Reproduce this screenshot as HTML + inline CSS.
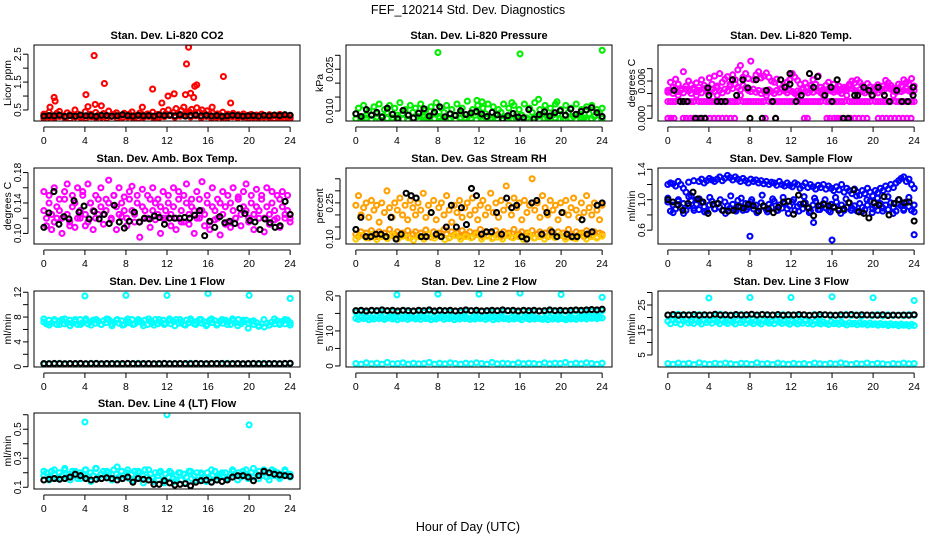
<!DOCTYPE html>
<html><head><meta charset="utf-8"><title>FEF_120214 Std. Dev. Diagnostics</title>
<style>
html,body{margin:0;padding:0;background:#fff;}
svg{display:block;font-family:"Liberation Sans",Arial,sans-serif;}
</style></head>
<body>
<svg id="chart" width="936" height="540" viewBox="0 0 936 540">
<rect x="0" y="0" width="936" height="540" fill="#fff"/>
<text x="468" y="14" text-anchor="middle" font-size="12.5">FEF_120214  Std. Dev. Diagnostics</text>
<text x="468" y="531" text-anchor="middle" font-size="12.5">Hour of Day (UTC)</text>
</svg>
<script>
// ---------- data ----------
const hourTicks = [0,4,8,12,16,20,24];

// Panel 1: Li-820 CO2 (Licor ppm)
const co2Main = [0.35,0.28,0.42,0.3,0.25,0.38,0.45,0.3,0.27,0.4,0.33,0.29,0.5,0.36,0.31,0.27,0.44,0.3,0.35,0.26,0.41,0.32,0.28,0.37,0.3,0.46,0.27,0.34,0.4,0.29,0.31,0.38,0.26,0.35,0.43,0.3,0.28,0.39,0.33,0.27,0.36,0.31,0.42,0.29,0.34,0.3,0.45,0.37,0.5,0.33,0.41,0.55,0.36,0.48,0.6,0.39,0.44,0.52,0.35,0.58,0.42,0.5,0.38,0.47,0.33,0.4,0.29,0.36,0.31,0.42,0.28,0.35,0.3,0.38,0.27,0.33,0.29,0.36,0.25,0.31,0.34,0.28,0.32,0.26,0.35,0.3,0.27,0.33,0.29,0.31,0.26,0.34,0.28,0.3,0.25,0.22];
const co2Low = [0.2,0.24,0.21,0.27,0.22,0.19,0.25,0.23,0.2,0.26,0.22,0.24,0.21,0.28,0.2,0.23,0.25,0.22,0.19,0.24,0.27,0.21,0.23,0.26,0.3,0.24,0.28,0.32,0.25,0.29,0.22,0.27,0.2,0.24,0.23,0.21,0.26,0.22,0.25,0.2,0.23,0.21,0.24,0.22,0.2,0.23,0.21,0.19];
const co2Black = [0.28,0.3,0.29,0.31,0.27,0.3,0.28,0.32,0.29,0.3,0.27,0.31,0.3,0.28,0.29,0.33,0.3,0.28,0.31,0.29,0.3,0.28,0.32,0.3,0.31,0.29,0.33,0.28,0.3,0.32,0.29,0.31,0.28,0.3,0.27,0.29,0.31,0.3,0.28,0.29,0.3,0.28,0.31,0.29,0.32,0.3,0.33,0.31];
const co2OutHr = [0.6,1.0,1.1,4.1,4.3,4.9,5.0,5.6,5.9,9.6,10.6,11.5,12.1,12.7,13.8,13.9,14.1,14.3,14.6,14.7,14.9,17.5,18.2,16.4];
const co2OutVal = [0.6,0.95,0.82,1.05,0.62,2.45,0.7,0.65,1.45,0.6,1.25,0.75,1.0,1.08,1.05,2.15,2.75,1.1,0.95,1.35,1.4,1.7,0.75,0.6];
const co2Ticks = [0.5,1.0,1.5,2.0,2.5];
const co2Labels = ["0.5","","1.5","","2.5"];

// Panel 2: Li-820 Pressure (kPa)
const presMain = [0.009,0.011,0.0075,0.012,0.0085,0.01,0.007,0.0115,0.009,0.0125,0.008,0.0105,0.0095,0.012,0.0075,0.011,0.0085,0.013,0.009,0.0105,0.007,0.012,0.0095,0.011,0.008,0.0125,0.0085,0.0105,0.0075,0.0115,0.009,0.013,0.008,0.011,0.0095,0.012,0.007,0.0105,0.0085,0.0125,0.009,0.011,0.0075,0.0135,0.0085,0.0105,0.0095,0.012,0.008,0.011,0.009,0.0125,0.0075,0.0115,0.0085,0.0105,0.0095,0.0125,0.008,0.011,0.007,0.012,0.009,0.0105,0.0085,0.0125,0.0075,0.011,0.0095,0.013,0.008,0.0105,0.009,0.012,0.0075,0.011,0.0085,0.0125,0.009,0.0105,0.007,0.012,0.0095,0.011,0.008,0.0125,0.0085,0.0105,0.0075,0.0115,0.009,0.012,0.008,0.0105,0.0095,0.011];
const presLow = [0.0072,0.0068,0.0075,0.007,0.0078,0.0066,0.0073,0.0069,0.0076,0.0071,0.0067,0.0074,0.007,0.0078,0.0068,0.0072,0.0075,0.0069,0.0073,0.0067,0.0076,0.007,0.0074,0.0068,0.0072,0.0077,0.0069,0.0073,0.0066,0.0075,0.0071,0.0068,0.0074,0.007,0.0077,0.0067,0.0073,0.0069,0.0075,0.0071,0.0068,0.0074,0.007,0.0076,0.0068,0.0072,0.0069,0.0073];
const presBlack = [0.009,0.008,0.0105,0.0085,0.0095,0.0078,0.011,0.0088,0.0072,0.0102,0.0085,0.0075,0.0092,0.0108,0.0082,0.0096,0.0115,0.0079,0.009,0.0084,0.0101,0.0087,0.0093,0.0098,0.0089,0.008,0.0095,0.0086,0.0072,0.0083,0.0091,0.0078,0.0076,0.0105,0.0071,0.0087,0.0097,0.0082,0.0094,0.0101,0.0085,0.0107,0.0088,0.0098,0.0104,0.0112,0.0094,0.008];
const presOutHr = [8,16,24,11.8,17.8,19.6,12.3,15.2];
const presOutVal = [0.031,0.0305,0.0318,0.0138,0.0142,0.0133,0.0133,0.013];
const presTicks = [0.010,0.015,0.020,0.025,0.030];
const presLabels = ["0.010","","","0.025",""];

// Panel 3: Li-820 Temp (degrees C)
const tempBand = [0.0027,0.0027,0.0027,0.0027,0.0037,0.0027,0.0027,0.0027,0.0027,0.0027,0.0027,0.0037,0.0027,0.0027,0.0027,0.0027,0.0027,0.0027,0.0027,0.0037,0.0027,0.0027,0.0027,0.0027,0.0027,0.0027,0.0027,0.0027,0.0037,0.0027,0.0027,0.0027,0.0027,0.0027,0.0027,0.0027,0.0027,0.0027,0.0037,0.0027,0.0027,0.0027,0.0027,0.0027,0.0027,0.0027,0.0027,0.0027,0.0027,0.0027,0.0037,0.0027,0.0027,0.0027,0.0027,0.0027,0.0027,0.0027,0.0027,0.0027,0.0037,0.0027,0.0027,0.0027,0.0027,0.0027,0.0027,0.0027,0.0027,0.0037,0.0027,0.0027,0.0027,0.0027,0.0027,0.0027,0.0027,0.0027,0.0027,0.0037,0.0027,0.0027,0.0027,0.0027,0.0027,0.0027,0.0027,0.0037,0.0027,0.0027,0.0027,0.0027,0.0027,0.0027,0.0027,0.0027];
const tempMid = [0.0042,0.0045,0.004,0.0048,0.0043,0.0045,0.0041,0.0047,0.0044,0.004,0.0046,0.0043,0.0045,0.0041,0.0048,0.0044,0.0042,0.0046,0.0043,0.0049,0.0045,0.0041,0.0047,0.0044,0.0052,0.0048,0.0055,0.005,0.0046,0.0053,0.0049,0.0045,0.0043,0.0047,0.0042,0.0045,0.004,0.0044,0.0042,0.0046,0.0043,0.004,0.0045,0.0042,0.0047,0.0044,0.0041,0.0045,0.0043,0.004,0.0044,0.0042,0.0046,0.0043,0.0041,0.0045,0.0042,0.0048,0.0044,0.0041,0.0046,0.0043,0.0047,0.0044,0.0042,0.0045,0.0043,0.004,0.0045,0.0049,0.0052,0.0048,0.0045,0.0042,0.0046,0.0043,0.0041,0.0045,0.0042,0.0047,0.0044,0.0041,0.0046,0.0043,0.0048,0.0051,0.0047,0.0044,0.0042,0.0046,0.0043,0.0045,0.0048,0.0044,0.0042,0.0045];
const tempUpper = [0.0045,0.0058,0.005,0.0063,0.0055,0.0048,0.0075,0.0052,0.006,0.0054,0.0049,0.0057,0.005,0.0062,0.0053,0.0047,0.0065,0.0055,0.0068,0.0052,0.0072,0.0058,0.0063,0.0067,0.0055,0.007,0.0062,0.0078,0.0085,0.0066,0.0072,0.0064,0.0092,0.0062,0.007,0.0075,0.0065,0.0068,0.0073,0.0066,0.006,0.0058,0.0063,0.0055,0.0049,0.0052,0.0058,0.0062,0.0072,0.0066,0.0061,0.0055,0.0048,0.0057,0.005,0.0053,0.0062,0.0055,0.0068,0.005,0.0047,0.0053,0.0058,0.0046,0.0055,0.0049,0.0052,0.0047,0.005,0.0045,0.0055,0.006,0.0057,0.0062,0.0058,0.0053,0.0048,0.0056,0.0051,0.0046,0.005,0.0054,0.0048,0.0052,0.0061,0.0057,0.0053,0.0049,0.0047,0.0055,0.0052,0.0062,0.0058,0.0055,0.0064,0.0052];
const tempZeroHr = [0,0.3,0.6,1.5,1.8,2.2,2.5,2.9,3.3,3.7,4.1,4.5,4.9,5.3,5.7,6.1,6.5,9.5,10.5,13.3,13.6,15.5,15.8,16.2,16.5,16.8,17.5,17.8,18.2,18.6,19,19.4,20.5,20.9,21.3,21.7,22.1,22.5,22.9,23.3,23.7];
const tempBlackHr = [0.6,1.2,1.5,1.9,2.7,3.2,3.6,3.9,4.0,4.8,5.2,5.6,6.3,6.7,7.3,7.8,8.0,8.6,9.2,9.6,10.2,10.5,11.0,11.4,11.9,11.9,12.5,13.0,13.8,14.2,14.6,15.3,15.9,16.0,16.5,17.1,17.6,18.2,18.5,19.1,19.6,19.9,20.5,21.1,21.6,22.3,22.8,23.4,23.9,23.9];
const tempBlackVal = [0.0045,0.0027,0.0027,0.0027,0.0,0.0,0.0,0.0049,0.0037,0.0027,0.0027,0.0027,0.0062,0.0037,0.0062,0.0049,0.0,0.0062,0.0,0.0045,0.0027,0.0,0.0062,0.005,0.0055,0.0072,0.0027,0.0037,0.0072,0.005,0.0067,0.0037,0.005,0.0027,0.0062,0.0,0.0,0.0037,0.0037,0.005,0.0045,0.0037,0.005,0.0037,0.0027,0.0045,0.0027,0.0027,0.005,0.0037];
const tempTicks = [0.000,0.002,0.004,0.006,0.008];
const tempLabels = ["0.000","","","0.006",""];

// Panel 4: Amb. Box Temp (degrees C)
const ambMain = [0.13,0.12,0.14,0.125,0.115,0.135,0.13,0.12,0.145,0.125,0.11,0.135,0.14,0.12,0.13,0.15,0.125,0.115,0.14,0.13,0.12,0.145,0.135,0.125,0.13,0.14,0.12,0.15,0.135,0.125,0.14,0.13,0.12,0.145,0.13,0.125,0.14,0.115,0.135,0.13,0.12,0.145,0.13,0.14,0.125,0.135,0.12,0.13,0.14,0.125,0.135,0.12,0.145,0.13,0.115,0.14,0.125,0.135,0.13,0.12,0.145,0.13,0.125,0.14,0.115,0.135,0.13,0.12,0.14,0.125,0.135,0.115,0.14,0.13,0.12,0.145,0.125,0.135,0.13,0.12,0.14,0.125,0.135,0.13,0.145,0.12,0.135,0.125,0.14,0.13,0.12,0.145,0.135,0.125,0.13,0.12];
const ambWide = [0.155,0.11,0.15,0.105,0.16,0.12,0.145,0.1,0.155,0.165,0.115,0.15,0.108,0.16,0.12,0.155,0.11,0.165,0.14,0.105,0.15,0.125,0.16,0.112,0.145,0.17,0.118,0.15,0.105,0.16,0.122,0.148,0.11,0.155,0.162,0.115,0.15,0.095,0.158,0.12,0.15,0.108,0.16,0.118,0.145,0.1,0.155,0.12,0.15,0.11,0.16,0.105,0.155,0.115,0.15,0.165,0.112,0.145,0.1,0.155,0.12,0.168,0.11,0.15,0.105,0.16,0.118,0.145,0.098,0.155,0.112,0.15,0.108,0.16,0.12,0.148,0.11,0.155,0.165,0.115,0.15,0.105,0.158,0.12,0.15,0.102,0.16,0.112,0.155,0.118,0.15,0.108,0.155,0.12,0.15,0.115];
const ambBlack = [0.108,0.127,0.155,0.112,0.122,0.119,0.143,0.128,0.136,0.119,0.129,0.119,0.125,0.113,0.137,0.115,0.107,0.116,0.128,0.115,0.12,0.119,0.123,0.121,0.112,0.12,0.12,0.12,0.121,0.12,0.124,0.13,0.097,0.116,0.108,0.122,0.114,0.116,0.113,0.133,0.126,0.117,0.115,0.105,0.119,0.114,0.108,0.11,0.142,0.125];
const ambTicks = [0.10,0.12,0.14,0.16,0.18];
const ambLabels = ["0.10","","0.14","","0.18"];

// Panel 5: Gas Stream RH (percent)
const rhLow = [0.12,0.11,0.13,0.115,0.125,0.105,0.135,0.12,0.11,0.13,0.118,0.125,0.108,0.14,0.115,0.12,0.13,0.11,0.125,0.118,0.135,0.105,0.12,0.13,0.115,0.125,0.11,0.138,0.12,0.108,0.13,0.115,0.125,0.11,0.14,0.12,0.105,0.13,0.118,0.125,0.11,0.135,0.12,0.115,0.13,0.108,0.125,0.12,0.14,0.11,0.13,0.115,0.125,0.105,0.135,0.12,0.11,0.13,0.118,0.125,0.108,0.14,0.115,0.12,0.13,0.11,0.125,0.118,0.135,0.105,0.12,0.13,0.115,0.125,0.11,0.138,0.12,0.108,0.13,0.115,0.125,0.11,0.14,0.12,0.105,0.13,0.118,0.125,0.11,0.135,0.12,0.115,0.13,0.108,0.125,0.12];
const rhLow2 = [0.1,0.115,0.105,0.12,0.098,0.11,0.102,0.118,0.1,0.112,0.105,0.095,0.11,0.1,0.12,0.104,0.112,0.098,0.108,0.115,0.1,0.11,0.105,0.118,0.1,0.112,0.102,0.108,0.1,0.115,0.105,0.11,0.098,0.12,0.104,0.11,0.1,0.112,0.106,0.115,0.1,0.108,0.102,0.118,0.1,0.11,0.104,0.112];
const rhUp = [0.24,0.28,0.2,0.23,0.25,0.19,0.26,0.22,0.24,0.17,0.25,0.21,0.3,0.23,0.19,0.25,0.22,0.27,0.2,0.24,0.18,0.26,0.23,0.2,0.25,0.22,0.29,0.19,0.24,0.21,0.26,0.18,0.23,0.25,0.2,0.28,0.22,0.17,0.24,0.21,0.26,0.19,0.23,0.25,0.2,0.27,0.22,0.18,0.24,0.26,0.2,0.23,0.29,0.21,0.25,0.19,0.26,0.22,0.32,0.24,0.2,0.27,0.23,0.25,0.18,0.26,0.21,0.24,0.35,0.22,0.25,0.19,0.28,0.23,0.2,0.26,0.22,0.24,0.18,0.25,0.21,0.26,0.2,0.23,0.27,0.22,0.19,0.25,0.21,0.28,0.23,0.2,0.25,0.22,0.18,0.24];
const rhBlack = [0.14,0.19,0.11,0.11,0.12,0.12,0.11,0.19,0.1,0.12,0.29,0.28,0.27,0.11,0.11,0.21,0.12,0.11,0.15,0.24,0.15,0.23,0.16,0.31,0.28,0.12,0.13,0.13,0.21,0.12,0.27,0.23,0.24,0.11,0.1,0.25,0.26,0.12,0.21,0.13,0.11,0.21,0.12,0.11,0.11,0.18,0.12,0.13,0.24,0.25];
const rhTicks = [0.10,0.15,0.20,0.25,0.30,0.35];
const rhLabels = ["0.10","","","0.25","",""];

// Panel 6: Sample Flow (ml/min)
const flowLow = [0.97,0.85,0.93,0.88,0.98,0.9,0.95,0.86,0.92,0.99,0.89,0.94,0.87,0.96,0.91,0.85,0.93,0.98,0.88,0.95,0.9,0.86,0.97,0.92,0.89,0.94,0.87,0.99,0.91,0.86,0.95,0.9,0.97,0.88,0.93,0.85,0.96,0.91,0.87,0.94,0.9,0.98,0.86,0.93,0.89,0.95,0.88,0.92,0.97,0.86,0.91,0.94,0.88,0.96,0.9,0.85,0.93,0.98,0.87,0.92,0.95,0.89,0.86,0.94,0.91,0.97,0.88,0.93,0.86,0.9,0.96,0.89,0.92,0.85,0.95,0.9,0.87,0.93,0.98,0.88,0.91,0.86,0.95,0.89,0.93,0.87,0.96,0.9,0.85,0.94,0.92,0.88,0.97,0.91,0.86,0.93];
const flowLow2 = [1.02,0.83,1.0,0.82,1.04,0.86,1.01,0.84,1.03,0.88,1.0,0.82,1.05,0.85,1.02,0.87,1.0,0.83,1.06,0.84,1.01,0.86,1.03,0.82,1.0,0.85,1.04,0.83,1.02,0.87,1.0,0.84,1.03,0.82,1.01,0.86,1.05,0.84,1.0,0.83,1.02,0.85,1.04,0.82,1.0,0.86,1.03,0.84];
const flowUp = [1.2,1.22,1.21,1.18,1.24,1.2,1.15,1.1,1.23,1.05,1.25,1.0,1.24,1.27,1.22,1.25,1.28,1.26,1.24,1.27,1.3,1.25,1.28,1.32,1.29,1.26,1.3,1.27,1.24,1.28,1.25,1.22,1.27,1.24,1.26,1.22,1.25,1.21,1.24,1.2,1.23,1.22,1.19,1.24,1.2,1.18,1.22,1.19,1.17,1.22,1.2,1.15,1.18,1.22,1.16,1.2,1.17,1.14,1.19,1.16,1.2,1.14,1.18,1.15,1.12,1.17,1.13,1.2,1.1,1.15,1.12,1.08,1.14,1.1,1.06,1.12,1.08,1.15,1.1,1.05,1.12,1.09,1.15,1.12,1.18,1.14,1.2,1.16,1.22,1.25,1.28,1.3,1.24,1.27,1.2,1.15];
const flowBlack = [1.0,0.97,0.93,0.86,0.95,1.1,1.01,0.97,0.82,0.94,0.95,0.86,0.85,0.86,0.91,0.89,0.94,0.92,0.85,0.92,0.88,0.83,0.9,0.97,0.98,0.81,1.06,0.95,0.89,0.79,0.92,0.94,0.92,0.9,0.86,0.88,0.96,1.13,0.84,0.82,0.76,0.96,0.93,1.04,0.8,0.95,1.0,0.96,0.97,0.72];
const flowOutHr = [8.0,16.0,24.0,14.2];
const flowOutVal = [0.52,0.47,0.54,0.7];
const flowTicks = [0.6,0.8,1.0,1.2,1.4];
const flowLabels = ["0.6","","1.0","","1.4"];

// Panel 7: Line 1 Flow (ml/min)
const l1Band = [7.2,6.9,7.5,7.0,7.4,6.8,7.3,7.6,6.9,7.1,7.5,7.0,7.3,6.8,7.6,7.1,7.4,6.9,7.2,7.5,7.0,7.3,6.8,7.4,7.1,7.6,6.9,7.2,7.5,7.0,7.4,6.8,7.3,7.1,7.6,6.9,7.2,7.4,7.0,7.5,6.8,7.3,7.1,7.6,6.9,7.2,7.5,7.0,7.4,6.9,7.3,7.6,7.0,7.2,6.8,7.5,7.1,7.4,6.9,7.3,7.6,7.0,7.2,6.8,7.5,7.1,7.4,6.9,7.3,7.0,7.5,7.2,6.8,7.4,7.1,7.6,6.9,7.2,7.5,7.0,7.3,6.8,7.1,6.6,6.9,6.4,7.0,6.7,7.2,6.9,7.4,7.0,7.3,6.9,7.5,7.1];
const l1Band2 = [7.7,6.7,7.6,6.8,7.7,6.6,7.6,6.8,7.7,6.7,7.6,6.8,7.7,6.6,7.6,6.7,7.7,6.8,7.6,6.6,7.7,6.7,7.6,6.8,7.7,6.6,7.6,6.7,7.7,6.8,7.6,6.6,7.7,6.7,7.6,6.8,7.7,6.6,7.5,6.2,7.4,6.5,7.6,6.7,7.7,6.8,7.6,6.7];
const l1Low = [0.4,0.5,0.45,0.55,0.4,0.5,0.45,0.5,0.42,0.55,0.48,0.4,0.5,0.45,0.52,0.4,0.5,0.46,0.55,0.42,0.5,0.45,0.4,0.52,0.48,0.45,0.5,0.4,0.55,0.46,0.5,0.42,0.48,0.5,0.4,0.55,0.45,0.5,0.42,0.48,0.5,0.4,0.55,0.45,0.5,0.42,0.48,0.5];
const l1Black = [0.5,0.48,0.52,0.5,0.49,0.51,0.5,0.53,0.48,0.5,0.52,0.49,0.5,0.51,0.48,0.5,0.52,0.5,0.49,0.51,0.5,0.48,0.5,0.52,0.49,0.5,0.51,0.5,0.48,0.52,0.5,0.49,0.51,0.5,0.52,0.48,0.5,0.51,0.49,0.5,0.52,0.5,0.48,0.51,0.5,0.49,0.52,0.55];
const l1OutHr = [4,8,12,16,20,24];
const l1OutVal = [11.4,11.5,11.5,11.8,11.5,11.0];
const l1Ticks = [0,2,4,6,8,10,12];
const l1Labels = ["0","","4","","8","","12"];

// Panel 8: Line 2 Flow (ml/min)
const l2Band = [13.6,13.3,13.9,13.5,13.8,13.2,13.7,13.4,14.0,13.5,13.8,13.3,13.6,13.9,13.4,13.7,13.2,13.8,13.5,13.9,13.3,13.6,13.8,13.4,13.7,13.3,13.9,13.5,13.6,13.2,13.8,13.4,13.7,13.9,13.3,13.6,13.5,13.8,13.2,13.7,13.4,13.9,13.5,13.6,13.3,13.8,13.4,13.7,13.5,13.9,13.3,13.6,13.8,13.2,13.7,13.4,13.9,13.5,13.6,13.3,13.8,13.4,13.7,13.5,13.2,13.9,13.6,13.3,13.8,13.4,13.7,13.5,13.3,13.6,13.2,13.8,13.4,13.7,13.3,13.6,13.5,13.2,13.7,13.4,13.6,13.3,13.8,13.5,13.7,13.4,13.9,13.6,13.8,13.5,13.9,13.7];
const l2Mid = [15.4,15.6,15.3,15.7,15.5,15.4,15.6,15.5,15.3,15.7,15.4,15.6,15.5,15.3,15.6,15.4,15.7,15.5,15.4,15.6,15.3,15.5,15.7,15.4,15.6,15.5,15.3,15.6,15.4,15.7,15.5,15.4,15.6,15.3,15.5,15.7,15.4,15.6,15.5,15.3,15.6,15.4,15.7,15.5,15.4,15.6,15.5,15.8];
const l2Black = [15.8,15.9,15.7,15.9,15.8,16.0,15.8,15.9,15.7,15.9,15.8,15.7,15.9,15.8,16.0,15.7,15.9,15.8,15.9,15.7,15.8,16.0,15.8,15.9,15.7,15.8,15.9,15.8,16.0,15.8,15.9,15.7,15.9,15.8,15.9,15.7,15.8,16.0,15.8,15.9,15.8,15.9,16.0,15.9,16.0,16.1,16.0,16.2];
const l2Low = [0.7,0.5,0.9,0.6,0.8,0.5,1.0,0.6,0.7,0.9,0.5,0.8,0.6,0.7,1.0,0.5,0.8,0.6,0.9,0.7,0.5,0.8,0.6,0.9,0.7,0.5,1.0,0.6,0.8,0.7,0.5,0.9,0.6,0.8,0.7,0.5,0.9,0.6,0.8,0.7,1.0,0.5,0.8,0.6,0.9,0.7,0.5,0.8];
const l2OutHr = [4,8,12,16,20,24];
const l2OutVal = [20.3,20.5,20.5,20.8,20.4,19.6];
const l2Ticks = [0,5,10,15,20];
const l2Labels = ["0","5","10","","20"];

// Panel 9: Line 3 Flow (ml/min)
const l3Band = [18.5,17.5,19.0,18.0,18.8,17.3,18.6,19.2,17.8,18.4,17.6,19.0,18.2,17.4,18.9,18.0,18.6,17.7,19.1,18.3,17.5,18.8,18.1,17.6,18.7,18.2,17.4,19.0,18.0,18.5,17.6,18.9,18.1,17.5,18.6,18.0,17.4,18.8,18.2,17.7,18.4,17.5,18.9,18.1,17.6,18.5,17.8,17.3,18.6,18.0,17.4,18.3,17.7,18.7,17.5,18.1,17.3,18.5,17.8,17.4,18.2,17.6,17.2,18.3,17.5,17.9,17.3,18.1,17.5,17.0,17.9,17.4,17.7,17.1,17.9,17.3,17.6,17.0,17.8,17.2,17.5,16.9,17.6,17.1,17.4,16.8,17.5,17.0,17.3,16.7,17.4,16.9,17.2,16.6,17.3,16.8];
const l3Mid = [21.0,20.6,21.3,20.8,21.1,20.5,21.2,20.7,21.0,20.6,21.3,20.8,21.0,20.5,21.2,20.7,21.1,20.6,21.3,20.8,21.0,20.5,21.2,20.7,21.1,20.6,21.0,20.8,21.2,20.5,21.1,20.7,21.0,20.6,21.2,20.8,21.1,20.5,21.0,20.7,21.2,20.6,21.1,20.8,21.0,20.7,21.2,20.9];
const l3Black = [21.0,21.2,20.9,21.1,21.0,21.2,20.9,21.1,21.0,21.3,21.0,21.1,20.9,21.2,21.0,21.1,21.3,21.0,21.2,21.1,21.0,21.2,20.9,21.1,21.0,21.2,21.1,20.9,21.0,21.2,21.1,21.0,20.9,21.1,21.0,21.2,20.9,21.1,21.0,21.0,20.9,21.1,20.8,21.0,20.9,21.0,20.9,21.1];
const l3Low = [1.6,1.3,1.8,1.4,1.7,1.2,1.9,1.5,1.3,1.7,1.4,1.8,1.5,1.2,1.7,1.6,1.3,1.9,1.4,1.6,1.2,1.8,1.5,1.3,1.7,1.4,1.6,1.2,1.8,1.5,1.3,1.7,1.4,1.9,1.5,1.2,1.6,1.4,1.8,1.3,1.7,1.5,1.2,1.6,1.4,1.8,1.5,1.6];
const l3OutHr = [4,8,12,16,20,24];
const l3OutVal = [27.8,28.0,28.0,28.3,27.9,26.8];
const l3Ticks = [5,10,15,20,25,30];
const l3Labels = ["5","","15","","25",""];

// Panel 10: Line 4 (LT) Flow (ml/min)
const l4Band = [0.18,0.2,0.17,0.21,0.19,0.16,0.2,0.18,0.22,0.17,0.19,0.21,0.18,0.16,0.2,0.19,0.22,0.17,0.2,0.18,0.23,0.17,0.19,0.21,0.18,0.2,0.16,0.22,0.19,0.17,0.21,0.18,0.2,0.16,0.19,0.21,0.17,0.2,0.18,0.22,0.17,0.19,0.16,0.2,0.18,0.21,0.15,0.19,0.17,0.2,0.16,0.18,0.2,0.15,0.19,0.17,0.21,0.16,0.18,0.2,0.15,0.19,0.17,0.2,0.16,0.18,0.21,0.17,0.19,0.18,0.2,0.17,0.19,0.21,0.18,0.2,0.17,0.19,0.22,0.18,0.2,0.17,0.19,0.21,0.18,0.2,0.17,0.19,0.22,0.18,0.2,0.17,0.19,0.21,0.18,0.19];
const l4Band2 = [0.21,0.15,0.22,0.16,0.23,0.15,0.21,0.16,0.22,0.14,0.23,0.16,0.21,0.15,0.24,0.16,0.22,0.15,0.21,0.13,0.22,0.14,0.2,0.13,0.21,0.14,0.2,0.13,0.21,0.15,0.2,0.14,0.22,0.15,0.2,0.16,0.22,0.15,0.21,0.16,0.23,0.16,0.22,0.15,0.21,0.16,0.22,0.17];
const l4Black = [0.15,0.155,0.16,0.155,0.16,0.17,0.19,0.18,0.16,0.15,0.155,0.16,0.165,0.16,0.15,0.16,0.17,0.135,0.16,0.155,0.15,0.12,0.12,0.145,0.13,0.115,0.12,0.125,0.11,0.135,0.145,0.15,0.135,0.15,0.14,0.15,0.17,0.18,0.18,0.17,0.145,0.18,0.21,0.2,0.19,0.185,0.18,0.175];
const l4OutHr = [4,12,20];
const l4OutVal = [0.55,0.6,0.53];
const l4Ticks = [0.1,0.2,0.3,0.4,0.5,0.6];
const l4Labels = ["0.1","","0.3","","0.5",""];

// ---------- layout ----------
const svg = document.getElementById('chart');
const NS = 'http://www.w3.org/2000/svg';
const colLeft = [34, 346, 658], rowTop = [45, 168, 291, 413];
const PW = 266, PH = 76;
const XMIN = -0.96, XMAX = 24.96;

function mk(tag, attrs, parent){
  const e = document.createElementNS(NS, tag);
  for (const k in attrs) e.setAttribute(k, attrs[k]);
  (parent || svg).appendChild(e);
  return e;
}

function makePanel(col, row, title, ylab, ymin, ymax, ticks, labels, key){
  const L = colLeft[col], T = rowTop[row];
  const g = mk('g', {});
  
  
  const sx = h => L + (h - XMIN) / (XMAX - XMIN) * PW;
  const sy = v => T + PH - (v - ymin) / (ymax - ymin) * PH;
  const t = mk('text', {x: L + PW/2, y: T - 6, 'text-anchor':'middle', 'font-size':'11', 'font-weight':'bold'}, g);
  t.textContent = title;
  
  
  const yl = mk('text', {x: 0, y: 0, 'text-anchor':'middle', 'font-size':'10.5', transform:`translate(${L-23},${T+PH/2}) rotate(-90)`}, g);
  yl.textContent = ylab;
  
  
  // x axis
  const xa = mk('g', {stroke:'#000','stroke-width':'1'}, g);
  
  
  mk('line', {x1: sx(0), x2: sx(24), y1: T+PH+6, y2: T+PH+6}, xa);
  hourTicks.forEach(h => {
    mk('line', {x1: sx(h), x2: sx(h), y1: T+PH+6, y2: T+PH+11}, xa);
    const lt = mk('text', {x: sx(h), y: T+PH+23, 'text-anchor':'middle', 'font-size':'10.5', stroke:'none', fill:'#000'}, g);
    lt.textContent = String(h);
    
    
  });
  // y axis
  const ya = mk('g', {stroke:'#000','stroke-width':'1'}, g);
  
  
  mk('line', {x1: L-6, x2: L-6, y1: sy(ticks[0]), y2: sy(ticks[ticks.length-1])}, ya);
  ticks.forEach((v, i) => {
    mk('line', {x1: L-11, x2: L-6, y1: sy(v), y2: sy(v)}, ya);
    if (labels[i]) {
      const lt = mk('text', {x: 0, y: 0, 'text-anchor':'middle', 'font-size':'10', stroke:'none', fill:'#000', transform:`translate(${L-13},${sy(v)}) rotate(-90)`}, g);
      lt.textContent = labels[i];
      
      
    }
  });
  const clip = mk('clipPath', {id: 'clip-' + key}, g);
  mk('rect', {x: L, y: T, width: PW, height: PH}, clip);
  const pts = mk('g', {'clip-path': `url(#clip-${key})`, fill:'none', 'stroke-width':'2.1'}, g);
  
  
  const box = mk('rect', {x: L, y: T, width: PW, height: PH, fill:'none', stroke:'#000', 'stroke-width':'1'}, g);
  
  
  return {
    seq(vals, color, name){
      const n = vals.length;
      vals.forEach((v, i) => {
        const c = mk('circle', {cx: sx(i * 24 / (n - 1)), cy: sy(v), r: 2.5, stroke: color}, pts);
        
        
      });
    },
    xy(hrs, vals, color, name){
      vals.forEach((v, i) => {
        const c = mk('circle', {cx: sx(hrs[i]), cy: sy(v), r: 2.5, stroke: color}, pts);
        
        
      });
    },
    flat(hrs, v, color, name){
      hrs.forEach(h => {
        const c = mk('circle', {cx: sx(h), cy: sy(v), r: 2.5, stroke: color}, pts);
        
        
      });
    }
  };
}

let p;
p = makePanel(0,0,'Stan. Dev. Li-820 CO2','Licor ppm',0.105,2.83,co2Ticks,co2Labels,'co2');
p.seq(co2Main,'#ff0000','co2-point'); p.seq(co2Low,'#ff0000','co2-point');
p.xy(co2OutHr,co2OutVal,'#ff0000','co2-point'); p.seq(co2Black,'#000','co2-hourly-point');

p = makePanel(1,0,'Stan. Dev. Li-820 Pressure','kPa',0.0064,0.0337,presTicks,presLabels,'pressure');
p.seq(presMain,'#00ee00','pressure-point'); p.seq(presLow,'#00ee00','pressure-point');
p.xy(presOutHr,presOutVal,'#00ee00','pressure-point'); p.seq(presBlack,'#000','pressure-hourly-point');

p = makePanel(2,0,'Stan. Dev. Li-820 Temp.','degrees C',-0.00043,0.0118,tempTicks,tempLabels,'li820-temp');
p.seq(tempBand,'#ff00ff','temp-point'); p.seq(tempMid,'#ff00ff','temp-point'); p.seq(tempUpper,'#ff00ff','temp-point');
p.flat(tempZeroHr,0,'#ff00ff','temp-point'); p.xy(tempBlackHr,tempBlackVal,'#000','temp-hourly-point');

p = makePanel(0,1,'Stan. Dev. Amb. Box Temp.','degrees C',0.0861,0.186,ambTicks,ambLabels,'amb-box-temp');
p.seq(ambWide,'#ff00ff','amb-point'); p.seq(ambMain,'#ff00ff','amb-point'); p.seq(ambBlack,'#000','amb-hourly-point');

p = makePanel(1,1,'Stan. Dev. Gas Stream RH','percent',0.0795,0.3947,rhTicks,rhLabels,'gas-rh');
p.seq(rhUp,'#ffa000','rh-point'); p.seq(rhLow,'#ff9900','rh-point'); p.seq(rhLow2,'#ffcc00','rh-point');
p.seq(rhBlack,'#000','rh-hourly-point');

p = makePanel(2,1,'Stan. Dev. Sample Flow','ml/min',0.418,1.417,flowTicks,flowLabels,'sample-flow');
p.seq(flowUp,'#0000ff','flow-point'); p.seq(flowLow,'#0000ff','flow-point'); p.seq(flowLow2,'#0000ff','flow-point');
p.xy(flowOutHr,flowOutVal,'#0000ff','flow-point'); p.seq(flowBlack,'#000','flow-hourly-point');

p = makePanel(0,2,'Stan. Dev. Line 1 Flow','ml/min',-0.05,12.2,l1Ticks,l1Labels,'line1');
p.seq(l1Band,'#00ffff','line1-point'); p.seq(l1Band2,'#00ffff','line1-point'); p.seq(l1Low,'#00ffff','line1-point');
p.xy(l1OutHr,l1OutVal,'#00ffff','line1-point'); p.seq(l1Black,'#000','line1-hourly-point');

p = makePanel(1,2,'Stan. Dev. Line 2 Flow','ml/min',-0.3,21.4,l2Ticks,l2Labels,'line2');
p.seq(l2Band,'#00ffff','line2-point'); p.seq(l2Mid,'#00ffff','line2-point'); p.seq(l2Low,'#00ffff','line2-point');
p.xy(l2OutHr,l2OutVal,'#00ffff','line2-point'); p.seq(l2Black,'#000','line2-hourly-point');

p = makePanel(2,2,'Stan. Dev. Line 3 Flow','ml/min',0.2,30.6,l3Ticks,l3Labels,'line3');
p.seq(l3Band,'#00ffff','line3-point'); p.seq(l3Mid,'#00ffff','line3-point'); p.seq(l3Low,'#00ffff','line3-point');
p.xy(l3OutHr,l3OutVal,'#00ffff','line3-point'); p.seq(l3Black,'#000','line3-hourly-point');

p = makePanel(0,3,'Stan. Dev. Line 4 (LT) Flow','ml/min',0.088,0.612,l4Ticks,l4Labels,'line4');
p.seq(l4Band,'#00ffff','line4-point'); p.seq(l4Band2,'#00ffff','line4-point');
p.xy(l4OutHr,l4OutVal,'#00ffff','line4-point'); p.seq(l4Black,'#000','line4-hourly-point');
</script>
</body></html>
